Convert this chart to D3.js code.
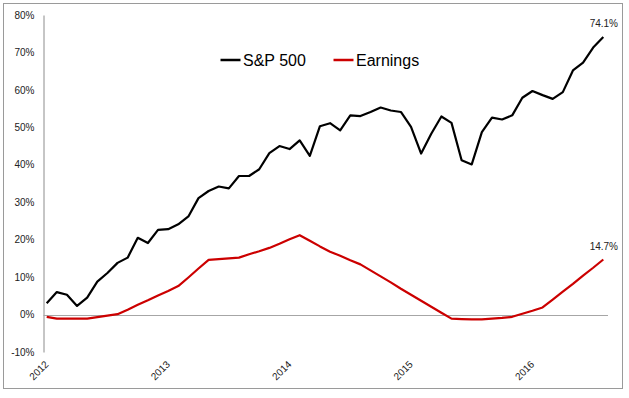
<!DOCTYPE html>
<html>
<head>
<meta charset="utf-8">
<script src="https://cdn.jsdelivr.net/npm/d3@7"></script>
<style>
  html, body { margin: 0; padding: 0; background: #fff; }
  svg { display: block; font-family: "Liberation Sans", Arial, sans-serif; }
</style>
</head>
<body>
<svg id="chart" width="629" height="398"></svg>
<script>
// Monthly index 0 = Jan 2012 ... 55 = Aug 2016
const yearLabels = ["2012", "2013", "2014", "2015", "2016"];
const yearTickIndex = [0, 12, 24, 36, 48];
const yTicks = [-10, 0, 10, 20, 30, 40, 50, 60, 70, 80];
const seriesNames = ["S&P 500", "Earnings"];
const sp500 = [3.0, 6.0, 5.3, 2.3, 4.5, 8.8, 11.1, 13.8, 15.2, 20.5, 19.1, 22.6,
  22.8, 24.1, 26.2, 31.1, 33.0, 34.2, 33.7, 37.0, 37.0, 38.8, 43.1, 45.0,
  44.2, 46.5, 42.4, 50.3, 51.1, 49.2, 53.2, 53.0, 54.1, 55.3, 54.5, 54.1,
  50.1, 43.0, 48.3, 52.9, 51.2, 41.2, 40.1, 48.7, 52.6, 52.1, 53.2, 57.9,
  59.7, 58.6, 57.6, 59.4, 65.2, 67.3, 71.3, 74.1];
const earnings = [-0.6, -1.1, -1.1, -1.1, -1.1, -0.7, -0.3, 0.1, 1.3, 2.6, 3.8, 5.1,
  6.3, 7.6, 9.9, 12.3, 14.6, 14.8, 15.0, 15.2, 16.1, 16.9, 17.8, 18.9,
  20.1, 21.2, 19.7, 18.2, 16.8, 15.7, 14.5, 13.4, 11.8, 10.2, 8.6, 6.9,
  5.3, 3.7, 2.1, 0.5, -1.1, -1.2, -1.3, -1.3, -1.1, -0.9, -0.6, 0.2,
  1.0, 1.9, 4.0, 6.1, 8.2, 10.4, 12.5, 14.7];
const endLabels = ["74.1%", "14.7%"];
const colors = ["#000000", "#cc0000"];

const svg = d3.select("#chart");

// outer border
svg.append("rect")
  .attr("x", 3.5).attr("y", 3.5)
  .attr("width", 619).attr("height", 385)
  .attr("fill", "#fff").attr("stroke", "#9a9a9a").attr("stroke-width", 1);

const x = d3.scaleLinear().domain([0, sp500.length - 1]).range([46.7, 603.3]);
const y = d3.scaleLinear().domain([-10, 80]).range([352, 15]);

// y axis
const yAxis = d3.axisLeft(y)
  .tickValues(yTicks)
  .tickFormat(d => d + "%")
  .tickSize(0)
  .tickPadding(9);
const gy = svg.append("g").attr("transform", "translate(43.5,0)").call(yAxis);
gy.select(".domain").attr("stroke", "#8c8c8c");
gy.selectAll("text").attr("font-size", 10).attr("fill", "#222")
  .attr("font-family", "'Liberation Sans', Arial, sans-serif");

// zero line (category axis)
svg.append("line")
  .attr("x1", 43.5).attr("x2", 608)
  .attr("y1", Math.round(y(0)) + 0.5).attr("y2", Math.round(y(0)) + 0.5)
  .attr("stroke", "#a6a6a6").attr("stroke-width", 1);

// x axis labels
const xAxis = d3.axisBottom(x)
  .tickValues(yearTickIndex)
  .tickFormat((d, i) => yearLabels[i])
  .tickSize(0);
const gx = svg.append("g").attr("transform", "translate(0,352)").call(xAxis);
gx.select(".domain").remove();
gx.selectAll("text")
  .attr("font-size", 10).attr("fill", "#222")
  .attr("font-family", "'Liberation Sans', Arial, sans-serif")
  .attr("text-anchor", "end")
  .attr("y", 0).attr("dy", 0)
  .attr("transform", "translate(2,13) rotate(-45)");

// lines
const line = d3.line().x((d, i) => x(i)).y(d => y(d));
[sp500, earnings].forEach((s, k) => {
  svg.append("path")
    .datum(s)
    .attr("d", line)
    .attr("fill", "none")
    .attr("stroke", colors[k])
    .attr("stroke-width", 2.2)
    .attr("stroke-linejoin", "round");
});

// end labels
[sp500, earnings].forEach((s, k) => {
  const last = s.length - 1;
  svg.append("text")
    .attr("x", 618)
    .attr("y", y(s[last]) - 10)
    .attr("text-anchor", "end")
    .attr("font-size", 10)
    .attr("fill", "#222")
    .text(endLabels[k]);
});

// legend
const legendX = [220.5, 333.5];
seriesNames.forEach((name, k) => {
  const g = svg.append("g").attr("transform", `translate(${legendX[k]},60)`);
  g.append("line").attr("x1", 0).attr("x2", 20).attr("y1", 0).attr("y2", 0)
    .attr("stroke", colors[k]).attr("stroke-width", 2.5);
  g.append("text").attr("x", 22.5).attr("y", 5.7)
    .attr("font-size", 16).attr("fill", "#000").text(name);
});
</script>
</body>
</html>
